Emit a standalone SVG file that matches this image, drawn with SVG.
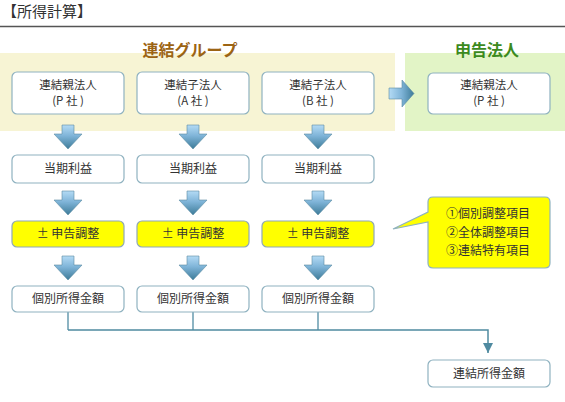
<svg xmlns="http://www.w3.org/2000/svg" width="565" height="402" viewBox="0 0 565 402">
<defs>
<linearGradient id="gd" x1="0" y1="0" x2="0" y2="1">
<stop offset="0" stop-color="#b4dbf5"/>
<stop offset="0.45" stop-color="#7fb4d8"/>
<stop offset="1" stop-color="#3d7b98"/>
</linearGradient>
<linearGradient id="gr" x1="0" y1="0" x2="1" y2="0">
<stop offset="0" stop-color="#b4dbf5"/>
<stop offset="0.5" stop-color="#7fb4d8"/>
<stop offset="1" stop-color="#3d7b98"/>
</linearGradient>
<marker id="ah" viewBox="0 0 10 10" refX="10" refY="5" markerWidth="10" markerHeight="10" markerUnits="userSpaceOnUse" orient="auto">
<path d="M0,0 L10,5 L0,10 Z" fill="#4f8aa0"/>
</marker>
<path id="down" d="M-6,0 H6 V9 H14 L0,24 L-14,9 H-6 Z"/>
</defs>
<style>
text{font-family:"Noto Sans CJK JP","Noto Sans",sans-serif;fill:#333;font-size:12px;text-anchor:middle}
.sm{font-size:11.5px}
.box{fill:#fff;stroke:#8fb2c0;stroke-width:1.2}
.ybox{fill:#ffff00;stroke:#8fa8b8;stroke-width:1.2}
.arr{fill:url(#gd);stroke:#5a8ca3;stroke-width:0.6}
.con{fill:none;stroke:#4f8aa0;stroke-width:1.5}
.vcon{fill:none;stroke:#8db4c3;stroke-width:2}
</style>
<text x="2" y="17" style="font-size:15px;text-anchor:start">【所得計算】</text>
<line x1="0" y1="26.5" x2="565" y2="26.5" stroke="#555" stroke-width="1.5"/>
<rect x="0" y="53" width="395" height="78" fill="#f7f4d4"/>
<rect x="405" y="53" width="160" height="78" fill="#e2f4c6"/>
<text x="190" y="56" style="font-size:16px;font-weight:bold;fill:#9c6414">連結グループ</text>
<text x="487" y="56" style="font-size:16px;font-weight:bold;fill:#3c8a1e">申告法人</text>

<g id="connectors">
<use href="#down" x="68" y="125" class="arr"/>
<use href="#down" x="193" y="125" class="arr"/>
<use href="#down" x="318" y="125" class="arr"/>
<use href="#down" x="68" y="191" class="arr"/>
<use href="#down" x="193" y="191" class="arr"/>
<use href="#down" x="318" y="191" class="arr"/>
<use href="#down" x="68" y="256" class="arr"/>
<use href="#down" x="193" y="256" class="arr"/>
<use href="#down" x="318" y="256" class="arr"/>
<path d="M389,88 H402 V80 L414,93.5 L402,107 V99 H389 Z" fill="url(#gr)" stroke="#5a8ca3" stroke-width="0.6"/>
<path class="vcon" d="M68,312 V330 M193,312 V330 M318,312 V330"/>
<path class="con" d="M68,330 H488 V353" marker-end="url(#ah)"/>
</g>

<g id="n1"><rect class="box" x="12" y="72" width="112" height="42" rx="5"/><text class="sm" x="68" y="89">連結親法人</text><text class="sm" x="68" y="105">(P 社 )</text></g>
<g id="n2"><rect class="box" x="137" y="72" width="112" height="42" rx="5"/><text class="sm" x="193" y="89">連結子法人</text><text class="sm" x="193" y="105">(A 社 )</text></g>
<g id="n3"><rect class="box" x="262" y="72" width="112" height="42" rx="5"/><text class="sm" x="318" y="89">連結子法人</text><text class="sm" x="318" y="105">(B 社 )</text></g>
<g id="n4"><rect class="box" x="428" y="73" width="122" height="41" rx="5"/><text class="sm" x="489" y="89">連結親法人</text><text class="sm" x="489" y="105">(P 社 )</text></g>

<g id="p1"><rect class="box" x="12" y="155" width="112" height="28" rx="5"/><text x="68" y="173">当期利益</text></g>
<g id="p2"><rect class="box" x="137" y="155" width="112" height="28" rx="5"/><text x="193" y="173">当期利益</text></g>
<g id="p3"><rect class="box" x="262" y="155" width="112" height="28" rx="5"/><text x="318" y="173">当期利益</text></g>

<g id="a1"><rect class="ybox" x="12" y="221" width="112" height="26" rx="5"/><text x="68" y="238">± 申告調整</text></g>
<g id="a2"><rect class="ybox" x="137" y="221" width="112" height="26" rx="5"/><text x="193" y="238">± 申告調整</text></g>
<g id="a3"><rect class="ybox" x="262" y="221" width="112" height="26" rx="5"/><text x="318" y="238">± 申告調整</text></g>

<g id="callout">
<path d="M433,197 H545 Q550,197 550,202 V263 Q550,268 545,268 H433 Q428,268 428,263 V222 L393,229 L428,212 V202 Q428,197 433,197 Z" fill="#ffff00" stroke="#8fb2c0" stroke-width="1.2"/>
<text x="446" y="218" style="text-anchor:start">①個別調整項目</text>
<text x="446" y="237" style="text-anchor:start">②全体調整項目</text>
<text x="446" y="255" style="text-anchor:start">③連結特有項目</text>
</g>

<g id="i1"><rect class="box" x="12" y="286" width="112" height="26" rx="5"/><text x="68" y="303">個別所得金額</text></g>
<g id="i2"><rect class="box" x="137" y="286" width="112" height="26" rx="5"/><text x="193" y="303">個別所得金額</text></g>
<g id="i3"><rect class="box" x="262" y="286" width="112" height="26" rx="5"/><text x="318" y="303">個別所得金額</text></g>

<g id="total"><rect class="box" x="428" y="360" width="122" height="27" rx="5"/><text x="489" y="378">連結所得金額</text></g>
</svg>
